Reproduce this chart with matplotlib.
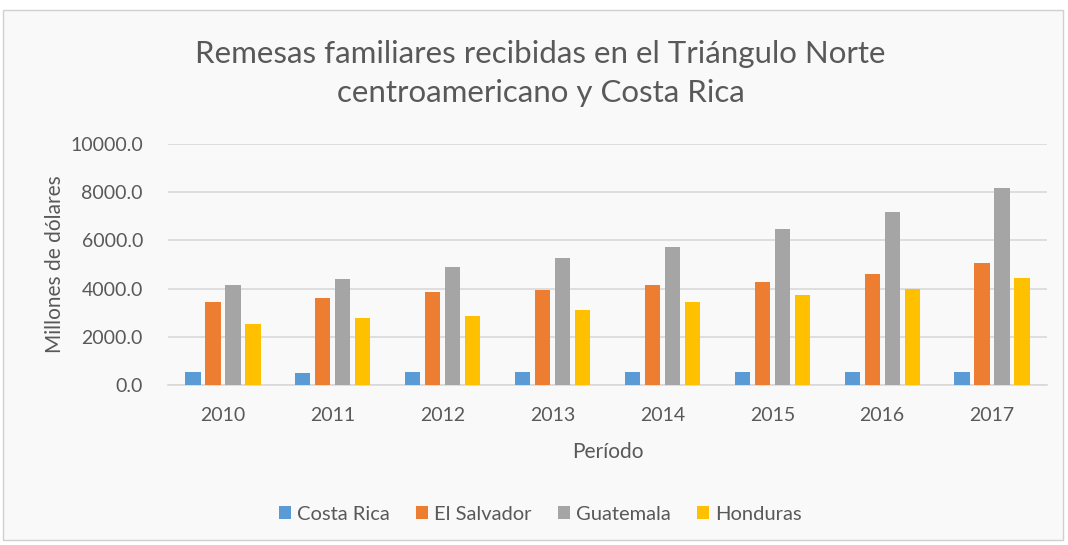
import matplotlib
matplotlib.use('Agg')
import matplotlib.pyplot as plt
import numpy as np
from matplotlib.patches import Rectangle
from matplotlib.ticker import FuncFormatter

# data (millones de dolares)
years = ['2010', '2011', '2012', '2013', '2014', '2015', '2016', '2017']
costa_rica = [527, 487, 527, 553, 553, 527, 527, 527]
el_salvador = [3455, 3627, 3875, 3925, 4145, 4285, 4600, 5045]
guatemala = [4145, 4395, 4905, 5255, 5710, 6455, 7160, 8195]
honduras = [2545, 2765, 2860, 3105, 3430, 3730, 3965, 4450]

series = [('Costa Rica', costa_rica, '#5B9BD5'),
          ('El Salvador', el_salvador, '#ED7D31'),
          ('Guatemala', guatemala, '#A5A5A5'),
          ('Honduras', honduras, '#FFC000')]

TEXT_COLOR = '#595959'
GRID_COLOR = '#D9D9D9'
BG_COLOR = '#F9F9F9'

plt.rcParams['font.family'] = ['Lato', 'DejaVu Sans']

fig = plt.figure(figsize=(10.68, 5.45), dpi=100)
fig.patch.set_facecolor('white')
# chart border like an office chart
fig.patches.append(Rectangle((3/1068, 5/545), 1060/1068, 530/545, transform=fig.transFigure,
                             facecolor=BG_COLOR, edgecolor='#D0D0D0', linewidth=1, zorder=-5))

ax = fig.add_axes([168/1068, 1 - 385/545, (1047 - 168)/1068, (385 - 144)/545])
ax.set_zorder(2)
ax.set_facecolor(BG_COLOR)

x = np.arange(len(years))
width = 0.139
step = 0.182
for i, (name, vals, col) in enumerate(series):
    ax.bar(x + (i - 1.5) * step, vals, width, color=col, label=name, zorder=3)

ax.set_xlim(-0.5, len(years) - 0.5)
ax.set_ylim(0, 10000)
ax.set_yticks(np.arange(0, 10001, 2000))
ax.yaxis.set_major_formatter(FuncFormatter(lambda v, p: '%.1f' % v))
ax.set_xticks(x)
ax.set_xticklabels(years)
ax.grid(axis='y', color=GRID_COLOR, linewidth=1.2, zorder=0)
for s in ['top', 'right', 'left']:
    ax.spines[s].set_visible(False)
ax.spines['bottom'].set_color(GRID_COLOR)
ax.spines['bottom'].set_linewidth(1.2)
ax.tick_params(length=0, labelsize=14, colors=TEXT_COLOR)
ax.tick_params(axis='x', pad=16)
ax.tick_params(axis='y', pad=18)

ax.set_ylabel('Millones de dólares', fontsize=15, color=TEXT_COLOR, labelpad=4)
ax.set_xlabel('Período', fontsize=15, color=TEXT_COLOR, labelpad=13)

fig.text(0.506, 0.865, 'Remesas familiares recibidas en el Triángulo Norte\ncentroamericano y Costa Rica',
         ha='center', va='center', fontsize=22.5, color=TEXT_COLOR, linespacing=1.5)

leg = fig.legend(loc='center', bbox_to_anchor=(0.506, 1 - 514/545), ncol=4, frameon=False,
                 fontsize=14.5, handlelength=0.6, handleheight=0.6, handletextpad=0.3,
                 columnspacing=1.3)
for t in leg.get_texts():
    t.set_color(TEXT_COLOR)

fig.savefig('out.png', dpi=100, facecolor=fig.get_facecolor())
